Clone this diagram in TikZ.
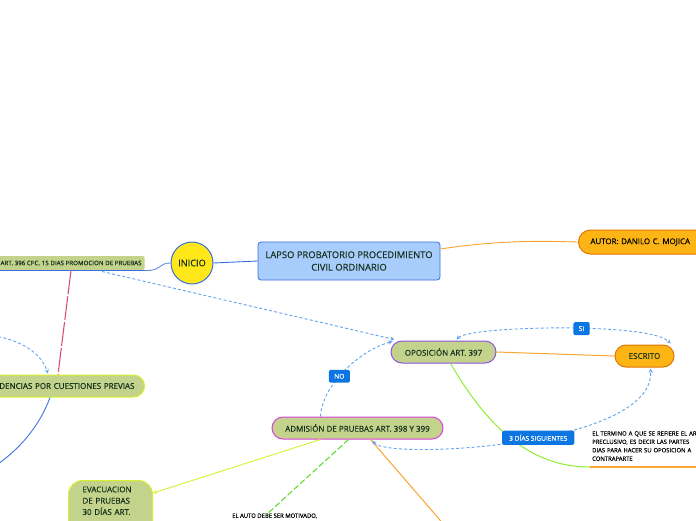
\documentclass[tikz,border=0pt]{standalone}
\usepackage{fontspec}
\setmainfont{Open Sans}[FakeBold=0.25]
\usepackage{tikz}
\usetikzlibrary{positioning,calc}

\definecolor{topicgreen}{HTML}{C3D38B}
\definecolor{limeborder}{HTML}{D7EF2E}
\definecolor{ink}{HTML}{14301C}
\definecolor{mainblue}{HTML}{3A6FE0}
\definecolor{paleblue}{HTML}{A8CCFB}
\definecolor{sunyellow}{HTML}{FFE71A}
\definecolor{autorange}{HTML}{FDB515}
\definecolor{orangeline}{HTML}{F9A530}
\definecolor{linkblue}{HTML}{63A2EE}
\definecolor{tagblue}{HTML}{0B76E2}
\definecolor{purpleborder}{HTML}{8B54E0}
\definecolor{magentaborder}{HTML}{DE3FE0}
\definecolor{rosered}{HTML}{D9506A}
\definecolor{grassgreen}{HTML}{8CEE32}
\definecolor{dashgreen}{HTML}{55DD22}

\begin{document}
\begin{tikzpicture}[x=1pt, y=-1pt,
    topic/.style={rounded corners=11, fill=topicgreen, draw=limeborder, line width=1,
        text=ink, font=\fontsize{8}{9}\selectfont, minimum height=22, inner xsep=12},
    orangetopic/.style={topic, fill=autorange, draw=orange!90!black},
    tag/.style={fill=tagblue, text=white, rounded corners=1.5, inner xsep=5.5, inner ysep=4,
        font=\fontsize{6.6}{7}\selectfont},
    link/.style={draw=linkblue, line width=0.9, dash pattern=on 3pt off 2.2pt, -stealth},
    note/.style={text=black, font=\fontsize{5.9}{8.4}\selectfont, align=left, inner sep=2}
]
        % Canvas
        \useasboundingbox (0,0) rectangle (696,520);
        \clip (0,0) rectangle (696,520);

        % Main topics
        \node[topic, draw=none, rounded corners=2, minimum height=14, inner xsep=3,
              font=\fontsize{6.2}{6.5}\selectfont, anchor=east] (art396) at (145,263)
              {ART. 396 CPC. 15 DIAS PROMOCION DE PRUEBAS};
        \node[circle, fill=sunyellow, draw=mainblue, line width=1, minimum size=42,
              text=ink, font=\fontsize{9.2}{10}\selectfont, inner sep=0] (inicio) at (192,263) {INICIO};
        \node[rectangle, rounded corners=3, fill=paleblue, draw=mainblue, line width=0.8,
              minimum width=182, minimum height=38, align=center, text=ink,
              font=\fontsize{9.4}{12.5}\selectfont] (lapso) at (349,261)
              {LAPSO PROBATORIO PROCEDIMIENTO\\CIVIL ORDINARIO};
        \node[orangetopic, rounded corners=12, minimum height=24, text width=120, align=left,
              text=black, font=\fontsize{7.9}{9}\selectfont, anchor=west] (autor) at (578,242)
              {AUTOR: DANILO C. MOJICA};

        % Opposition branch
        \node[topic, draw=purpleborder, minimum width=105] (oposicion) at (443.5,352)
              {OPOSICIÓN ART. 397};
        \node[orangetopic, minimum width=59, inner xsep=4] (escrito) at (644.5,356) {ESCRITO};
        \node[topic, draw=magentaborder, minimum width=171] (admision) at (357.5,428)
              {ADMISIÓN DE PRUEBAS ART. 398 Y 399};
        \node[topic, text width=136, align=right, anchor=east, inner xsep=10] (previas) at (145,386)
              {DENCIAS POR CUESTIONES PREVIAS};
        \node[topic, rounded corners=14, text width=56, align=left, inner xsep=14, inner ysep=6,
              font=\fontsize{8}{11.3}\selectfont, anchor=north west] (evacuacion) at (68,480)
              {EVACUACION\\DE PRUEBAS\\30 DÍAS ART.\\ \strut};

        % Loose notes
        \node[note, anchor=south west, text width=112, inner ysep=6] (termino) at (590,467)
              {EL TERMINO A QUE SE REFIERE EL AR\\PRECLUSIVO, ES DECIR LAS PARTES\\DIAS PARA HACER SU OPOSICION A\\CONTRAPARTE};
        \node[note, anchor=west] (motivado) at (230,516) {EL AUTO DEBE SER MOTIVADO,};

        % Free ends of connectors
        \coordinate (offleft) at (-12,335);
        \coordinate (offdown) at (-8,468);
        \coordinate (autoend) at (266,515);
        \coordinate (bottomend) at (452,534);

        % Solid connectors
        \draw[mainblue, line width=1.5] (art396.south west) -- (art396.south east);
        \draw[mainblue!80, line width=0.9] (art396.south east) .. controls (162,271) and (158,263) .. (inicio.west);
        \draw[mainblue, line width=0.9] (inicio.east) -- (lapso.west);
        \draw[orangeline, line width=0.9] ($(lapso.east)+(0,-12)$) .. controls (500,240) and (540,241) .. (autor.west);
        \draw[orangeline, line width=1] (oposicion.east) -- (escrito.west);
        \draw[grassgreen, line width=1] ($(oposicion.south)+(7,0)$) .. controls (495,440) and (540,467) .. (termino.south west);
        \draw[orangeline, line width=1.3] (termino.south west) -- (termino.south east);
        \draw[limeborder, line width=0.9, -stealth] ($(admision.south)+(-37,0)$) -- (evacuacion.north east |- 0,493);
        \draw[dashgreen, line width=1, dash pattern=on 6pt off 2.5pt] ($(admision.south)+(-9,0)$) -- (autoend);
        \draw[orangeline, line width=1] ($(admision.south)+(13,0)$) -- (bottomend);
        \draw[rosered, line width=1.1, dash pattern=on 24pt off 2pt] ($(art396.south east)+(-74,0)$) -- ($(previas.north east)+(-87,0)$);
        \draw[mainblue!90, line width=1] ($(previas.south east)+(-95,0)$) .. controls (40,425) and (20,450) .. (offdown);

        % Dashed links
        \draw[link] ($(art396.south east)+(-43,1)$) -- ($(oposicion.north west)+(4,-1)$);
        \draw[link] (offleft) .. controls (15,338) and (40,350) .. ($(previas.north east)+(-97,-1)$);
        \draw[link, stealth-stealth] ($(oposicion.north)+(13,-1)$) .. controls (470,326) and (650,322) .. ($(escrito.north east)+(-4,-1)$)
              node[tag, pos=0.57] (si) {SI};
        \draw[link] ($(admision.north)+(-37,0)$) .. controls (322,385) and (360,350) .. ($(oposicion.north west)+(2,1)$)
              node[tag, pos=0.43] (no) {NO};
        \draw[link, stealth-stealth] ($(admision.south)+(15,1)$) .. controls (385,460) and (655,447) .. ($(escrito.south)+(6,1)$)
              node[tag, pos=0.55, inner xsep=7] (dias) {3 DÍAS SIGUIENTES};

\end{tikzpicture}
\end{document}
